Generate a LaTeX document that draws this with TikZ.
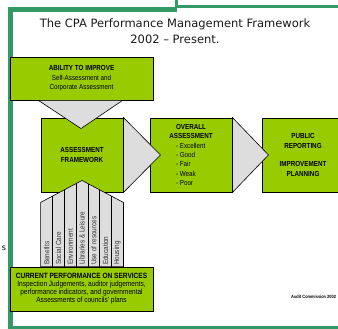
\documentclass[tikz,border=0pt]{standalone}
\usepackage{fontspec}
\setmainfont{Liberation Sans}
\newfontfamily\titlefont{DejaVu Sans}
\newfontfamily\boxfont[FakeStretch=0.86]{Liberation Sans}
\usetikzlibrary{calc}
\definecolor{frameGreen}{RGB}{51,153,102}
\definecolor{boxGreen}{RGB}{153,204,0}
\definecolor{arrowGrey}{RGB}{221,221,221}
\newcommand{\cpaSize}[2]{\fontsize{#1}{#2}\selectfont}
\newcommand{\cpaItem}[1]{\makebox[30pt][l]{- #1}}

\begin{document}
\begin{tikzpicture}[x=1pt,y=-1pt,
  box/.style={draw=black, line width=0.9pt, fill=boxGreen, inner sep=0pt, align=center,
    font=\boxfont\cpaSize{7.3}{9.4}},
  chevron/.style={draw=black, line width=0.6pt, fill=arrowGrey, line join=miter},
  service/.style={rotate=90, anchor=west, inner sep=0pt, text=black!80,
    font=\boxfont\cpaSize{7.4}{7}}]
\useasboundingbox (0,0) rectangle (338,329);
\clip (0,0) rectangle (338,329);
% border of the slide
\fill[frameGreen] (8,7) rectangle (177,12);
\fill[frameGreen] (175,0) rectangle (178,8);
\fill[frameGreen] (177,5) rectangle (338,8);
\fill[frameGreen] (8,7) rectangle (13,329);
\fill[frameGreen] (8,326) rectangle (338,329);
\node[inner sep=0pt, font=\titlefont\cpaSize{8}{8}] (edge) at (4,248) {s};
\node[align=center, inner sep=0pt, text=black!90, font=\titlefont\cpaSize{11.5}{16}] (title) at (175,31)
  {The CPA Performance Management Framework\\2002 \textendash\ Present.};
% the five boxes
\node[box, minimum width=143pt, minimum height=43pt] (ability) at (81.5,78.5)
  {\textbf{ABILITY TO IMPROVE}\\Self-Assessment and\\Corporate Assessment};
\node[box, minimum width=82pt, minimum height=74pt] (fw) at (82,155)
  {\textbf{ASSESSMENT}\\\textbf{FRAMEWORK}};
\node[box, minimum width=82pt, minimum height=74pt] (oa) at (191,155)
  {\textbf{OVERALL}\\\textbf{ASSESSMENT}\\\cpaItem{Excellent}\\\cpaItem{Good}\\\cpaItem{Fair}\\\cpaItem{Weak}\\\cpaItem{Poor}};
\node[box, minimum width=82pt, minimum height=74pt] (pr) at (303,155)
  {\textbf{PUBLIC}\\\textbf{REPORTING}\\[9.4pt]\textbf{IMPROVEMENT}\\\textbf{PLANNING}};
\node[box, minimum width=143pt, minimum height=44pt, font=\boxfont\cpaSize{7.6}{8}] (cur) at (81.5,289)
  {\textbf{CURRENT PERFORMANCE ON SERVICES}\\Inspection Judgements, auditor judgements,\\performance indicators, and governmental\\Assessments of councils' plans};
% grey arrows between boxes
\draw[chevron] ($(ability.south)+(-43,0)$) -- ($(ability.south)+(41,0)$) -- ($(fw.north)+(-1,11)$) -- cycle;
\draw[chevron] (fw.north east) -- ($(fw.east)+(37,0)$) -- (fw.south east) -- cycle;
\draw[chevron] (oa.north east) -- ($(oa.east)+(36,0)$) -- (oa.south east) -- cycle;
% service columns under the framework
\draw[chevron] (cur.north -| fw.west) -- ($(fw.south west)+(0,10)$) -- ($(fw.south)+(0,-12)$)
  -- ($(fw.south east)+(0,10)$) -- (cur.north -| fw.east) -- cycle;
\begin{scope}
  \clip (cur.north -| fw.west) -- ($(fw.south west)+(0,10)$) -- ($(fw.south)+(0,-12)$)
    -- ($(fw.south east)+(0,10)$) -- (cur.north -| fw.east) -- cycle;
  \foreach \i in {1,...,6}
    \draw[line width=0.6pt] ({41+\i*11.714},170) -- ({41+\i*11.714},268);
\end{scope}
\foreach \name [count=\i] in {Benefits, Social Care, Environment, {Libraries \& Leisure},
    Use of resources, Education, Housing}
  \node[service] (svc\i) at ({35.1+\i*11.714},265) {\name};
\node[anchor=west, inner sep=0pt, font=\boxfont\cpaSize{4.6}{5}\bfseries] (credit) at (291,297)
  {Audit Commission 2002};
\end{tikzpicture}
\end{document}
